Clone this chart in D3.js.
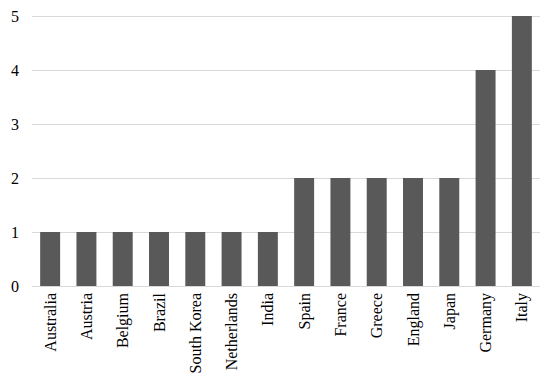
<!DOCTYPE html>
<html>
<head>
<meta charset="utf-8">
<script src="https://cdn.jsdelivr.net/npm/d3@7"></script>
<style>
  body { margin: 0; background: #fff; }
  text { font-family: "Liberation Serif", "Times New Roman", serif; fill: #000; }
</style>
</head>
<body>
<div id="chart"></div>
<script>
//////////////////////// Data ///////////////////////////
const countries = ["Australia","Austria","Belgium","Brazil","South Korea","Netherlands","India","Spain","France","Greece","England","Japan","Germany","Italy"]
const counts = [1,1,1,1,1,1,1,2,2,2,2,2,4,5]
const yTicks = [0,1,2,3,4,5]

//////////////////////// SVG ////////////////////////////
const W = 550, H = 374
const margin = {top: 16, right: 10, bottom: 88, left: 32}
const width = W - margin.left - margin.right
const height = H - margin.top - margin.bottom

const svg = d3.select("#chart").append("svg")
    .attr("width", W).attr("height", H)
  .append("g")
    .attr("transform", "translate(" + margin.left + "," + margin.top + ")")

//////////////////////// Scales /////////////////////////
const x = d3.scaleBand().domain(countries).range([0, width]).paddingInner(0.45).paddingOuter(0.225)
const y = d3.scaleLinear().domain([0, 5]).range([height, 0])

//Gridlines
svg.selectAll(".grid")
    .data(yTicks)
    .enter().append("line")
    .attr("x1", 0).attr("x2", width)
    .attr("y1", d => Math.round(y(d)) + 0.5).attr("y2", d => Math.round(y(d)) + 0.5)
    .style("stroke", "#d9d9d9")
    .style("stroke-width", 1)

//Y labels
svg.selectAll(".ytick")
    .data(yTicks)
    .enter().append("text")
    .attr("x", -17)
    .attr("y", d => y(d))
    .attr("dy", "0.35em")
    .attr("text-anchor", "middle")
    .style("font-size", "16px")
    .text(d => d)

//Bars
svg.selectAll(".bar")
    .data(countries)
    .enter().append("rect")
    .attr("x", d => x(d))
    .attr("width", x.bandwidth())
    .attr("y", (d,i) => y(counts[i]))
    .attr("height", (d,i) => y(0) - y(counts[i]))
    .style("fill", "#595959")

//X labels
svg.selectAll(".xtick")
    .data(countries)
    .enter().append("text")
    .attr("transform", d => "translate(" + (x(d) + x.bandwidth()/2) + "," + (height + 7) + ") rotate(-90)")
    .attr("dy", "0.35em")
    .attr("text-anchor", "end")
    .style("font-size", "16px")
    .text(d => d)
</script>
</body>
</html>
